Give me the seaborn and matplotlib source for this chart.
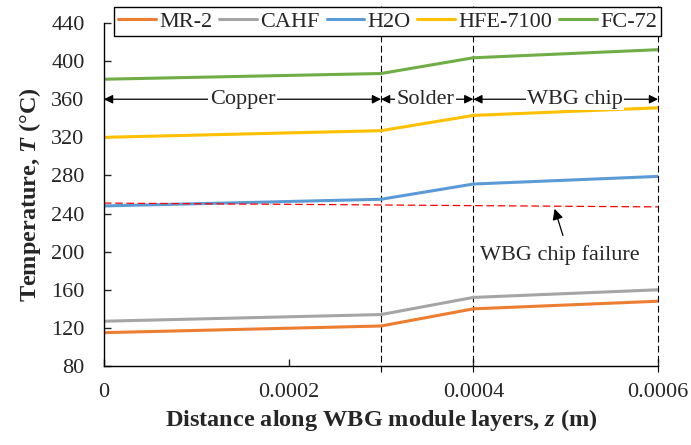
import numpy as np
import pandas as pd
import matplotlib
matplotlib.use("Agg")
import matplotlib.pyplot as plt
import seaborn as sns

# Data
z = [0.0, 0.0003, 0.0004, 0.0006]
mr2 = [115, 122, 140, 148]
cahf = [127, 134, 152, 160]
h2o = [248, 255, 271, 279]
hfe7100 = [320, 327, 343, 351]
fc72 = [381, 387, 403.5, 412]
fluids = ["MR-2", "CAHF", "H2O", "HFE-7100", "FC-72"]
colors = ["#ED7D31", "#A5A5A5", "#5B9BD5", "#FFC000", "#70AD47"]

failure_z = [0.0, 0.0006]
failure_T = [251, 247]

layers = ["Copper", "Solder", "WBG chip"]
layer_bounds = [(0.0, 0.0003), (0.0003, 0.0004), (0.0004, 0.0006)]
layer_text_x = [0.00015, 0.000348, 0.00051]

sns.set_style("ticks")
plt.rcParams["font.family"] = ["Liberation Serif", "DejaVu Serif"]
plt.rcParams["mathtext.fontset"] = "custom"
plt.rcParams["mathtext.bfit"] = "Liberation Serif:italic:bold"
plt.rcParams["mathtext.it"] = "Liberation Serif:italic"
plt.rcParams["mathtext.rm"] = "Liberation Serif"

df = pd.DataFrame({
    "z": z * 5,
    "T": mr2 + cahf + h2o + hfe7100 + fc72,
    "fluid": [f for f in fluids for _ in z],
})

fig = plt.figure(figsize=(6.91, 4.45), dpi=100)
ax = fig.add_axes([0.1505, 0.1775, 0.8018, 0.7708])

sns.lineplot(data=df, x="z", y="T", hue="fluid", hue_order=fluids,
             palette=dict(zip(fluids, colors)), linewidth=2.2, ax=ax,
             legend=True)

# failure limit
ax.plot(failure_z, failure_T, color="#FF0000", lw=0.9, ls=(0, (6, 3)))

# layer boundaries
for xv in [0.0003, 0.0004, 0.0006]:
    ax.axvline(xv, ymin=-0.018, ymax=1.05, color="black", lw=0.8,
               ls=(0, (6, 3)), clip_on=False, zorder=1)

# layer span arrows
for name, (a, b), tx in zip(layers, layer_bounds, layer_text_x):
    ax.annotate("", xy=(a, 360), xytext=(b, 360),
                arrowprops=dict(arrowstyle="<|-|>", color="black", lw=0.9,
                                shrinkA=0, shrinkB=0, mutation_scale=13))
    ax.text(tx, 360, name, ha="center", va="center", fontsize=16,
            bbox=dict(facecolor="white", edgecolor="none", pad=1))

ax.annotate("", xy=(0.000488, 245), xytext=(0.000497, 217),
            arrowprops=dict(arrowstyle="-|>", color="black", lw=0.9,
                            shrinkA=0, shrinkB=0, mutation_scale=16))
ax.text(0.000494, 196, "WBG chip failure", ha="center", va="center",
        fontsize=16)

ax.set_xlim(0, 0.0006)
ax.set_ylim(80, 440)
ax.set_xticks([0, 0.0002, 0.0004, 0.0006])
ax.set_xticklabels(["0", "0.0002", "0.0004", "0.0006"])
ax.set_yticks(np.arange(80, 441, 40))
ax.tick_params(direction="in", labelsize=16, length=5, width=1)
ax.tick_params(axis="x", pad=12)
ax.tick_params(axis="y", pad=14)
for s in ["left", "bottom"]:
    ax.spines[s].set_linewidth(1)
    ax.spines[s].set_color("black")
sns.despine(ax=ax)

ax.set_xlabel(r"Distance along WBG module layers, $\mathbfit{z}$ (m)",
              fontsize=17.5, fontweight="bold", labelpad=4)
ax.set_ylabel(r"Temperature, $\mathbfit{T}$ (°C)",
              fontsize=17.5, fontweight="bold", labelpad=6)

handles, labels = ax.get_legend_handles_labels()
ax.legend(handles, labels, ncol=5, loc="upper left",
          bbox_to_anchor=(114 / 691, 1 - 7 / 445), bbox_transform=fig.transFigure,
          fontsize=16, frameon=True, fancybox=False, edgecolor="black",
          framealpha=1, handlelength=1.7, handletextpad=0.15,
          columnspacing=0.3, borderpad=0.2, borderaxespad=0)
ax.get_legend().get_frame().set_linewidth(1)

fig.savefig("out.png", dpi=100)
